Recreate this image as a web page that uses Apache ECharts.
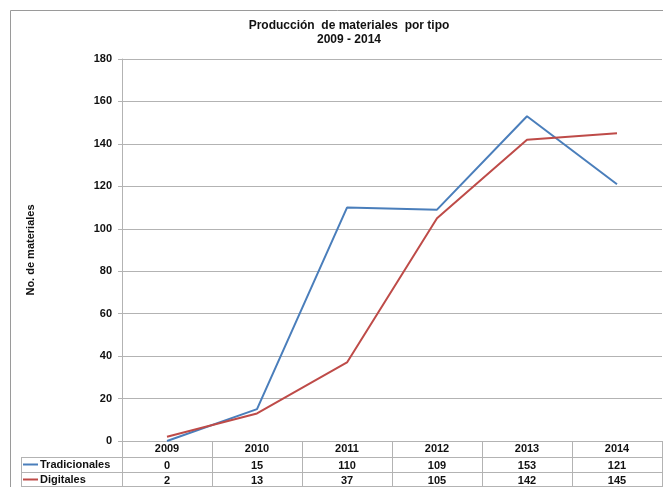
<!DOCTYPE html>
<html>
<head>
<meta charset="utf-8">
<script src="https://cdn.jsdelivr.net/npm/echarts@6/dist/echarts.min.js"></script>
<style>
  html, body { margin: 0; padding: 0; background: #fff; }
  #container { width: 663px; height: 487px; }
</style>
</head>
<body>
<div id="container"></div>
<script>
// 年份（x 轴）
const years = ['2009', '2010', '2011', '2012', '2013', '2014'];
// 系列数据
const tradicionales = [0, 15, 110, 109, 153, 121];
const digitales = [2, 13, 37, 105, 142, 145];
const seriesNames = ['Tradicionales', 'Digitales'];
// y 轴刻度
const yMin = 0;
const yMax = 180;
const yStep = 20;

const blue = '#4a7ebb';
const red = '#be4b48';
const gridColor = '#b3b3b3';
const font = 'Liberation Sans, Arial, sans-serif';

const dom = document.getElementById('container');
const myChart = echarts.init(dom);

// 表格行用的 x 轴（数值作为类目标签）
function tableAxis(values, offset) {
  return {
    type: 'category',
    data: values.map(String),
    position: 'bottom',
    offset: offset,
    boundaryGap: true,
    axisLine: { show: true, lineStyle: { color: gridColor } },
    axisTick: { show: false },
    axisLabel: { margin: 3, color: '#111', fontWeight: 'bold', fontSize: 11, fontFamily: font },
    splitLine: { show: false }
  };
}

const option = {
  animation: false,
  backgroundColor: '#fff',
  title: {
    text: 'Producción  de materiales  por tipo\n2009 - 2014',
    left: 344,
    top: 14,
    textAlign: 'center',
    textStyle: { fontSize: 12, fontWeight: 'bold', color: '#111', fontFamily: font, lineHeight: 14 }
  },
  legend: {
    data: seriesNames,
    orient: 'vertical',
    left: 23,
    top: 459,
    height: 40,
    padding: 0,
    icon: 'rect',
    itemWidth: 15,
    itemHeight: 2,
    itemGap: 4,
    textStyle: { fontSize: 11, fontWeight: 'bold', color: '#111', fontFamily: font, padding: [0, 0, 0, -3] }
  },
  grid: { left: 122, right: 1, top: 59, bottom: 46, containLabel: false },
  xAxis: [
    {
      type: 'category',
      data: years,
      boundaryGap: true,
      axisLine: { show: true, lineStyle: { color: gridColor } },
      axisTick: { show: true, length: 46, inside: false, lineStyle: { color: gridColor } },
      axisLabel: { margin: 2, color: '#111', fontWeight: 'bold', fontSize: 11, fontFamily: font },
      splitLine: { show: false }
    },
    tableAxis(tradicionales, 16),
    tableAxis(digitales, 31)
  ],
  yAxis: {
    type: 'value',
    min: yMin,
    max: yMax,
    interval: yStep,
    name: 'No. de materiales',
    nameLocation: 'middle',
    nameGap: 86,
    nameTextStyle: { fontSize: 11, fontWeight: 'bold', color: '#111', fontFamily: font },
    axisLine: { show: true, lineStyle: { color: gridColor } },
    axisTick: { show: true, length: 4, lineStyle: { color: gridColor } },
    axisLabel: { margin: 10, color: '#111', fontWeight: 'bold', fontSize: 11, fontFamily: font },
    splitLine: { show: true, lineStyle: { color: gridColor } }
  },
  series: [
    {
      name: seriesNames[0],
      type: 'line',
      data: tradicionales,
      symbol: 'none',
      lineStyle: { color: blue, width: 2 },
      itemStyle: { color: blue }
    },
    {
      name: seriesNames[1],
      type: 'line',
      data: digitales,
      symbol: 'none',
      lineStyle: { color: red, width: 2 },
      itemStyle: { color: red }
    }
  ],
  graphic: [
    // 外框
    { type: 'rect', shape: { x: 10.5, y: 10.5, width: 700, height: 600 }, style: { fill: 'none', stroke: '#9a9a9a', lineWidth: 1 }, silent: true },
    // 表格左侧标签列
    { type: 'line', shape: { x1: 21, y1: 457.5, x2: 122, y2: 457.5 }, style: { stroke: gridColor, lineWidth: 1 } },
    { type: 'line', shape: { x1: 21, y1: 472.5, x2: 122, y2: 472.5 }, style: { stroke: gridColor, lineWidth: 1 } },
    { type: 'line', shape: { x1: 21, y1: 486.5, x2: 663, y2: 486.5 }, style: { stroke: gridColor, lineWidth: 1 } },
    { type: 'line', shape: { x1: 21.5, y1: 457, x2: 21.5, y2: 487 }, style: { stroke: gridColor, lineWidth: 1 } }
  ]
};

myChart.setOption(option, true);
</script>
</body>
</html>
